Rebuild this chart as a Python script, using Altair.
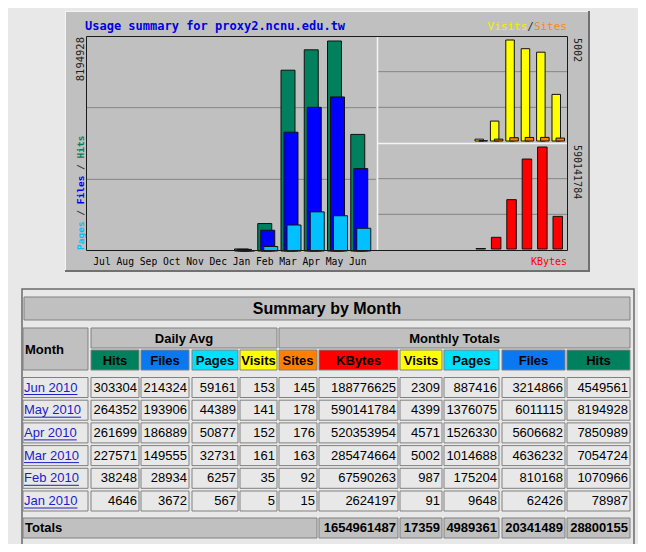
import altair as alt
import pandas as pd

# ---------------- data ----------------
graph_months = ["Jul", "Aug", "Sep", "Oct", "Nov", "Dec", "Jan", "Feb", "Mar", "Apr", "May", "Jun"]
table_months = ["Jun 2010", "May 2010", "Apr 2010", "Mar 2010", "Feb 2010", "Jan 2010"]
daily_hits = [303304, 264352, 261699, 227571, 38248, 4646]
daily_files = [214324, 193906, 186889, 149555, 28934, 3672]
daily_pages = [59161, 44389, 50877, 32731, 6257, 567]
daily_visits = [153, 141, 152, 161, 35, 5]
month_sites = [145, 178, 176, 163, 92, 15]
month_kbytes = [188776625, 590141784, 520353954, 285474664, 67590263, 2624197]
month_visits = [2309, 4399, 4571, 5002, 987, 91]
month_pages = [887416, 1376075, 1526330, 1014688, 175204, 9648]
month_files = [3214866, 6011115, 5606682, 4636232, 810168, 62426]
month_hits = [4549561, 8194928, 7850989, 7054724, 1070966, 78987]
totals_monthly = [1654961487, 17359, 4989361, 20341489, 28800155]  # KBytes, Visits, Pages, Files, Hits

# ---------------- style / layout ----------------
W, H = 630, 536
BG = "#e8e8e8"
GRAY = "#c0c0c0"
C_HITS, C_FILES, C_PAGES = "#00805c", "#0000ff", "#00c0ff"
C_VISITS, C_SITES, C_KB = "#ffff00", "#ff8000", "#ff0000"
H_HITS, H_FILES, H_PAGES = "#00805c", "#0a78f0", "#00e0ff"
MONO = "DejaVu Sans Mono"
SANS = "Liberation Sans"

layers = []


def sx():
    return alt.Scale(domain=[0, W], range=[0, W], nice=False, zero=False)


def sy():
    return alt.Scale(domain=[0, H], range=[0, H], nice=False, zero=False)


def add_rects(rows, stroke=None, sw=1.0):
    df = pd.DataFrame(rows, columns=["x0", "x1", "y0", "y1", "fill"])
    kw = dict(stroke=stroke, strokeWidth=sw) if stroke else {}
    layers.append(alt.Chart(df).mark_rect(**kw).encode(
        x=alt.X("x0:Q", scale=sx(), axis=None), x2="x1:Q",
        y=alt.Y("y0:Q", scale=sy(), axis=None), y2="y1:Q",
        fill=alt.Fill("fill:N", scale=None)))


def add_lines(rows, color, sw=1.0):
    df = pd.DataFrame(rows, columns=["x0", "x1", "y0", "y1"])
    layers.append(alt.Chart(df).mark_rule(color=color, strokeWidth=sw).encode(
        x=alt.X("x0:Q", scale=sx(), axis=None), x2="x1:Q",
        y=alt.Y("y0:Q", scale=sy(), axis=None), y2="y1:Q"))


def add_text(rows, align="left", baseline="middle", font=SANS, size=13, weight="normal", angle=0):
    df = pd.DataFrame(rows, columns=["x", "y", "t", "c"])
    layers.append(alt.Chart(df).mark_text(
        align=align, baseline=baseline, font=font, fontSize=size, fontWeight=weight, angle=angle
    ).encode(
        x=alt.X("x:Q", scale=sx(), axis=None), y=alt.Y("y:Q", scale=sy(), axis=None),
        text="t:N", color=alt.Color("c:N", scale=None)))


# ---------------- graph frame ----------------
add_rects([(57, 582, 3, 264, GRAY)])
add_lines([(57, 582, 3.5, 3.5), (57.5, 57.5, 3, 264)], "#f4f4f4", 1)
add_lines([(57, 582, 263, 263), (581, 581, 3, 264)], "#707070", 2)

# panel geometry
LX0, LX1, PY0, PY1 = 78, 369, 28, 243
RX0, RX1, RMID, RBOT = 369, 560, 135, 242

grid = []
for k in (1, 2):
    grid.append((LX0 + 1, LX1 - 1, PY1 - (PY1 - PY0) * k / 3, PY1 - (PY1 - PY0) * k / 3))
    grid.append((RX0 + 1, RX1 - 1, RMID - (RMID - PY0) * k / 3, RMID - (RMID - PY0) * k / 3))
    grid.append((RX0 + 1, RX1 - 1, RBOT - (RBOT - RMID) * k / 3, RBOT - (RBOT - RMID) * k / 3))
add_lines(grid, "#858585", 1)

# ---------------- graph bars ----------------
gdf = pd.DataFrame({
    "month": [m.split()[0] for m in table_months],
    "hits": month_hits, "files": month_files, "pages": month_pages,
    "visits": month_visits, "sites": month_sites, "kbytes": month_kbytes,
})


def band(r0, r1, pin):
    return alt.Scale(type="band", domain=graph_months, range=[r0, r1], paddingInner=pin, paddingOuter=0)


def lin(dmax, r0, r1):
    return alt.Scale(domain=[0, dmax], range=[r0, r1], nice=False, zero=True)


left_max = max(month_hits) * 215 / 210
for field, col, off in (("hits", C_HITS, 0), ("files", C_FILES, 3), ("pages", C_PAGES, 6)):
    layers.append(alt.Chart(gdf).mark_bar(color=col, stroke="#101010", strokeWidth=1, xOffset=off).encode(
        x=alt.X("month:N", scale=band(87, 356.75, 0.398), axis=None),
        y=alt.Y(f"{field}:Q", scale=lin(left_max, PY1, PY0), axis=None)))

vis_max = max(month_visits) * 105 / 101
for field, col, off in (("visits", C_VISITS, 0), ("sites", C_SITES, 4)):
    layers.append(alt.Chart(gdf).mark_bar(color=col, stroke="#101010", strokeWidth=1, xOffset=off).encode(
        x=alt.X("month:N", scale=band(374.6, 552.5, 0.448), axis=None),
        y=alt.Y(f"{field}:Q", scale=lin(vis_max, 133, PY0), axis=None)))

kb_max = max(month_kbytes) * 106 / 102
layers.append(alt.Chart(gdf).mark_bar(color=C_KB, stroke="#101010", strokeWidth=1).encode(
    x=alt.X("month:N", scale=band(375.6, 554.5, 0.383), axis=None),
    y=alt.Y("kbytes:Q", scale=lin(kb_max, 241, RMID), axis=None)))

# panel borders
add_rects([(LX0 + 0.5, RX1 - 0.5, PY0 + 0.5, PY1 - 0.5, "transparent")], stroke="#1a1a1a", sw=1)
add_lines([(RX0 + 0.5, RX0 + 0.5, PY0 + 1, PY1 - 1), (RX0 + 1, RX1 - 1, RMID + 0.5, RMID + 0.5)], "#f4f4f4", 1.5)

# month labels
mdf = pd.DataFrame({"month": graph_months})
layers.append(alt.Chart(mdf).mark_text(font=MONO, fontSize=9.7, baseline="alphabetic", color="#000000").encode(
    x=alt.X("month:N", scale=band(87, 356.75, 0.398), axis=None, bandPosition=0.5),
    y=alt.value(257), text="month:N"))

# graph texts
add_text([(77, 22, "Usage summary for proxy2.ncnu.edu.tw", "#0000e0")],
         font=MONO, size=12, weight="bold", baseline="alphabetic")
cw = 0.602 * 11
add_text([(559, 22, "Sites", "#f08c20"), (559 - 5 * cw, 22, "/", "#303030"),
          (559 - 6 * cw, 22, "Visits", "#f0f000")], align="right", font=MONO, size=11, baseline="alphabetic")
add_text([(559, 257, "KBytes", "#ff0000")], align="right", font=MONO, size=10, baseline="alphabetic")
add_text([(72.5, 29, f"{max(month_hits)}", "#202020")], align="right", font=MONO, size=10.5, angle=270)
add_text([(569, 30, f"{max(month_visits)}", "#202020"), (569, 137, f"{max(month_kbytes)}", "#202020")],
         align="left", font=MONO, size=10, angle=90)
cw2 = 0.602 * 9.5
add_text([(72.5, 242, "Pages", C_PAGES), (72.5, 242 - 6 * cw2, "/", "#303030"),
          (72.5, 242 - 8 * cw2, "Files", C_FILES), (72.5, 242 - 14 * cw2, "/", "#303030"),
          (72.5, 242 - 16 * cw2, "Hits", C_HITS)], align="left", font=MONO, size=9.5, weight="bold", angle=270)

# ---------------- table ----------------
cols = [  # key, x0, x1, header, header colour
    ("dh", 83, 131, "Hits", H_HITS), ("df", 133, 181, "Files", H_FILES),
    ("dp", 184, 230, "Pages", H_PAGES), ("dv", 232, 269, "Visits", C_VISITS),
    ("ms", 271, 309, "Sites", C_SITES), ("mk", 311, 390, "KBytes", C_KB),
    ("mv", 392, 434, "Visits", C_VISITS), ("mp", 436, 491, "Pages", H_PAGES),
    ("mf", 494, 557, "Files", H_FILES), ("mh", 559, 622, "Hits", H_HITS),
]
col_values = [daily_hits, daily_files, daily_pages, daily_visits, month_sites,
              month_kbytes, month_visits, month_pages, month_files, month_hits]
ROW0, ROWSTEP = 379.5, 22.7
row_y = [ROW0 + i * ROWSTEP for i in range(len(table_months))]
TOT_Y = 520

add_rects([(14, 626, 281, 540, "transparent")], stroke="#6a6a6a", sw=1.5)

cells = [(16, 622, 289, 312, GRAY), (15, 80, 320, 362, GRAY), (83, 269, 320, 340, GRAY), (271, 622, 320, 340, GRAY)]
cells += [(x0, x1, 342, 362, hc) for (_, x0, x1, _, hc) in cols]
for yc in row_y:
    cells.append((15, 80, yc - 10, yc + 10, BG))
    cells += [(x0, x1, yc - 10, yc + 10, BG) for (_, x0, x1, _, _) in cols]
cells.append((15, 309, TOT_Y - 10, TOT_Y + 10, GRAY))
cells += [(x0, x1, TOT_Y - 10, TOT_Y + 10, GRAY) for (_, x0, x1, _, _) in cols[5:]]
add_rects(cells, stroke="#808080", sw=1)

add_text([(319, 300.5, "Summary by Month", "#000000")], align="center", size=16, weight="bold")
add_text([(176, 330.5, "Daily Avg", "#000000"), (446.5, 330.5, "Monthly Totals", "#000000")]
         + [((x0 + x1) / 2, 352.5, lab, "#000000") for (_, x0, x1, lab, _) in cols],
         align="center", size=13, weight="bold")
add_text([(17, 341.5, "Month", "#000000"), (17, TOT_Y, "Totals", "#000000")], size=13, weight="bold")

num_rows = []
for vals, (_, x0, x1, _, _) in zip(col_values, cols):
    for yc, v in zip(row_y, vals):
        num_rows.append((x1 - 2, yc, str(v), "#000000"))
add_text(num_rows, align="right", size=13)
add_text([(x1 - 2, TOT_Y, str(v), "#000000") for v, (_, x0, x1, _, _) in zip(totals_monthly, cols[5:])],
         align="right", size=13, weight="bold")

LINK = "#1c1cc8"
add_text([(16, yc, m, LINK) for m, yc in zip(table_months, row_y)], size=13)
AW = {"J": .5, "u": .556, "n": .556, " ": .278, "2": .556, "0": .556, "1": .556, "M": .833, "a": .556,
      "y": .5, "A": .667, "p": .556, "r": .333, "F": .611, "e": .556, "b": .556}
add_lines([(16, 16 + 13 * sum(AW[c] for c in m), yc + 7, yc + 7) for m, yc in zip(table_months, row_y)], LINK, 1)

chart = alt.layer(*layers).resolve_scale(x="independent", y="independent").properties(
    width=W, height=H, padding=0, autosize="none", background=BG
).configure_view(stroke=None)

chart.save("out.html", embed_options={"renderer": "svg", "actions": False})
